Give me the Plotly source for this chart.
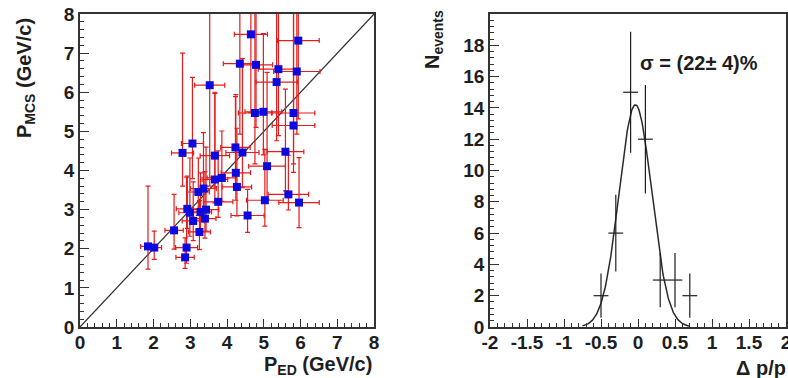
import numpy as np
import plotly.graph_objects as go

# ---- left panel: momentum from MCS vs momentum from energy deposit ----
p_ed = [1.85, 2.02, 2.56, 2.86, 2.90, 2.92, 2.99, 3.08, 3.22, 3.36, 3.25, 3.40, 3.43, 3.28,
        3.76, 4.27, 4.56, 5.03, 5.67, 5.96, 3.67, 3.86, 4.24, 5.09, 2.79, 3.06, 3.67, 4.23,
        4.42, 5.59, 4.76, 4.99, 5.81, 5.81, 3.53, 5.35, 4.35, 4.79, 5.40, 5.90, 4.65, 5.94]
p_mcs = [2.06, 2.03, 2.47, 1.78, 2.03, 3.02, 2.92, 2.71, 3.45, 3.54, 2.43, 2.77, 3.00, 2.94,
         3.20, 3.58, 2.85, 3.24, 3.39, 3.18, 3.77, 3.81, 3.94, 4.11, 4.45, 4.69, 4.38, 4.59,
         4.46, 4.48, 5.47, 5.50, 5.47, 5.15, 6.18, 6.26, 6.73, 6.70, 6.59, 6.53, 7.48, 7.32]
p_ed_err = [0.20, 0.20, 0.25, 0.25, 0.30, 0.30, 0.30, 0.30, 0.30, 0.35, 0.30, 0.30, 0.35, 0.30,
            0.40, 0.40, 0.45, 0.50, 0.55, 0.55, 0.35, 0.40, 0.40, 0.50, 0.30, 0.30, 0.40, 0.40,
            0.45, 0.50, 0.45, 0.50, 0.58, 0.58, 0.41, 0.56, 0.45, 0.45, 0.55, 0.63, 0.45, 0.57]
p_mcs_err_up = [1.54, 0.42, 0.92, 0.50, 1.80, 0.84, 1.40, 1.00, 0.87, 1.43, 0.80, 1.20, 1.60, 1.00,
                1.30, 1.50, 0.67, 1.30, 1.00, 1.15, 2.20, 1.20, 2.00, 2.40, 2.55, 1.69, 1.62, 1.30,
                2.40, 1.60, 4.00, 2.00, 4.00, 4.00, 3.00, 2.50, 3.00, 3.00, 3.00, 3.00, 3.00, 3.00]
p_mcs_err_dn = [0.58, 0.30, 0.48, 0.28, 0.40, 0.50, 0.60, 0.50, 0.60, 0.70, 0.45, 0.50, 0.55, 0.60,
                0.40, 0.74, 0.43, 0.66, 0.40, 0.64, 0.60, 0.60, 0.70, 0.85, 0.85, 0.90, 0.80, 1.00,
                0.90, 1.00, 1.30, 1.10, 1.30, 1.20, 2.58, 1.50, 1.80, 1.60, 1.70, 1.60, 2.00, 2.00]
diag = [0, 8]

# ---- right panel: relative momentum residual ----
dp_centers = [-0.5, -0.3, -0.1, 0.1, 0.3, 0.5, 0.7]
dp_counts = [2, 6, 15, 12, 3, 3, 2]
dp_halfwidth = 0.1
fit_amp = 14.2
fit_mean = -0.035
fit_sigma = 0.22
fit_range = [-0.75, 0.7]

p_ticks = [0, 1, 2, 3, 4, 5, 6, 7, 8]
dp_ticks = [-2, -1.5, -1, -0.5, 0, 0.5, 1, 1.5, 2]
dp_labels = ["-2", "-1.5", "-1", "-0.5", "0", "0.5", "1", "1.5", "2"]
n_ticks = [0, 2, 4, 6, 8, 10, 12, 14, 16, 18]

W, H = 788, 378
FONT = "Liberation Sans"
INK = "#1e1e1e"

fig = go.Figure()

fig.add_trace(go.Scatter(
    x=diag, y=diag, mode="lines",
    line=dict(color="#303030", width=1.2),
    xaxis="x", yaxis="y", hoverinfo="skip"))

fig.add_trace(go.Scatter(
    x=p_ed, y=p_mcs, mode="markers",
    marker=dict(symbol="square", size=8, color="#0a0ae0"),
    error_x=dict(type="data", array=p_ed_err, color="#e41c1c", thickness=1.2, width=2.5),
    error_y=dict(type="data", symmetric=False, array=p_mcs_err_up,
                 arrayminus=p_mcs_err_dn, color="#e41c1c", thickness=1.2, width=2.5),
    xaxis="x", yaxis="y"))

fx = np.linspace(fit_range[0], fit_range[1], 200)
fy = fit_amp * np.exp(-0.5 * ((fx - fit_mean) / fit_sigma) ** 2)
fig.add_trace(go.Scatter(
    x=fx, y=fy, mode="lines", line=dict(color="#2a2a2a", width=1.5),
    xaxis="x2", yaxis="y2", hoverinfo="skip"))

fig.add_trace(go.Scatter(
    x=dp_centers, y=dp_counts, mode="markers",
    marker=dict(size=1, color="rgba(0,0,0,0)"),
    error_x=dict(type="constant", value=dp_halfwidth, color=INK, thickness=1.2, width=0),
    error_y=dict(type="data", array=list(np.sqrt(dp_counts)), color=INK, thickness=1.2, width=0),
    xaxis="x2", yaxis="y2"))

y_dom = [1 - 327 / H, 1 - 14 / H]
tickfont = dict(family=FONT, size=19, color=INK, weight="bold")
common = dict(showline=True, linecolor="#333", linewidth=1.5, mirror=True,
              showgrid=False, zeroline=False, ticks="inside", tickcolor="#333",
              tickwidth=1.2, tickfont=tickfont, automargin=False,
              ticklabeloverflow="allow")

fig.update_layout(
    width=W, height=H, margin=dict(l=0, r=0, t=0, b=0),
    paper_bgcolor="white", plot_bgcolor="white", showlegend=False,
    xaxis=dict(domain=[80 / W, 374 / W], range=[0, 8], tickvals=p_ticks, ticklen=8,
               ticklabelstandoff=-3,
               minor=dict(ticks="inside", ticklen=4, tickmode="linear", tick0=0, dtick=0.2,
                          tickcolor="#333"),
               anchor="y", **common),
    yaxis=dict(domain=y_dom, range=[0, 8], tickvals=p_ticks, ticklen=9,
               minor=dict(ticks="inside", ticklen=4.5, tickmode="linear", tick0=0, dtick=0.2,
                          tickcolor="#333"),
               anchor="x", **common),
    xaxis2=dict(domain=[490 / W, 786 / W], range=[-2, 2], tickvals=dp_ticks, ticktext=dp_labels,
                ticklen=8, ticklabelstandoff=-3,
                minor=dict(ticks="inside", ticklen=4, tickmode="linear", tick0=0, dtick=0.1,
                           tickcolor="#333"),
                anchor="y2", **common),
    yaxis2=dict(domain=y_dom, range=[0, 20], tickvals=n_ticks, ticklen=9,
                minor=dict(ticks="inside", ticklen=4.5, tickmode="linear", tick0=0, dtick=0.4,
                           tickcolor="#333"),
                anchor="x2", **common),
)

title_font = dict(family=FONT, size=20, color=INK, weight="bold")
fig.add_annotation(text="P<sub>MCS</sub> (GeV/c)", xref="paper", yref="paper",
                   x=26 / W, y=1 - 78 / H, xanchor="center", yanchor="middle",
                   textangle=-90, showarrow=False, font=title_font)
fig.add_annotation(text="P<sub>ED</sub> (GeV/c)", xref="paper", yref="paper",
                   x=374 / W, y=1 - 365 / H, xanchor="right", yanchor="middle",
                   showarrow=False, font=title_font)
fig.add_annotation(text="N<sub>events</sub>", xref="paper", yref="paper",
                   x=433 / W, y=1 - 40 / H, xanchor="center", yanchor="middle",
                   textangle=-90, showarrow=False, font=title_font)
fig.add_annotation(text="Δ p/p", xref="paper", yref="paper",
                   x=788 / W, y=1 - 368 / H, xanchor="right", yanchor="middle",
                   showarrow=False, font=title_font)
fig.add_annotation(text="σ = (22± 4)%", xref="paper", yref="paper",
                   x=638 / W, y=1 - 63 / H, xanchor="left", yanchor="middle",
                   showarrow=False, font=title_font)

fig.write_html("out.html")
